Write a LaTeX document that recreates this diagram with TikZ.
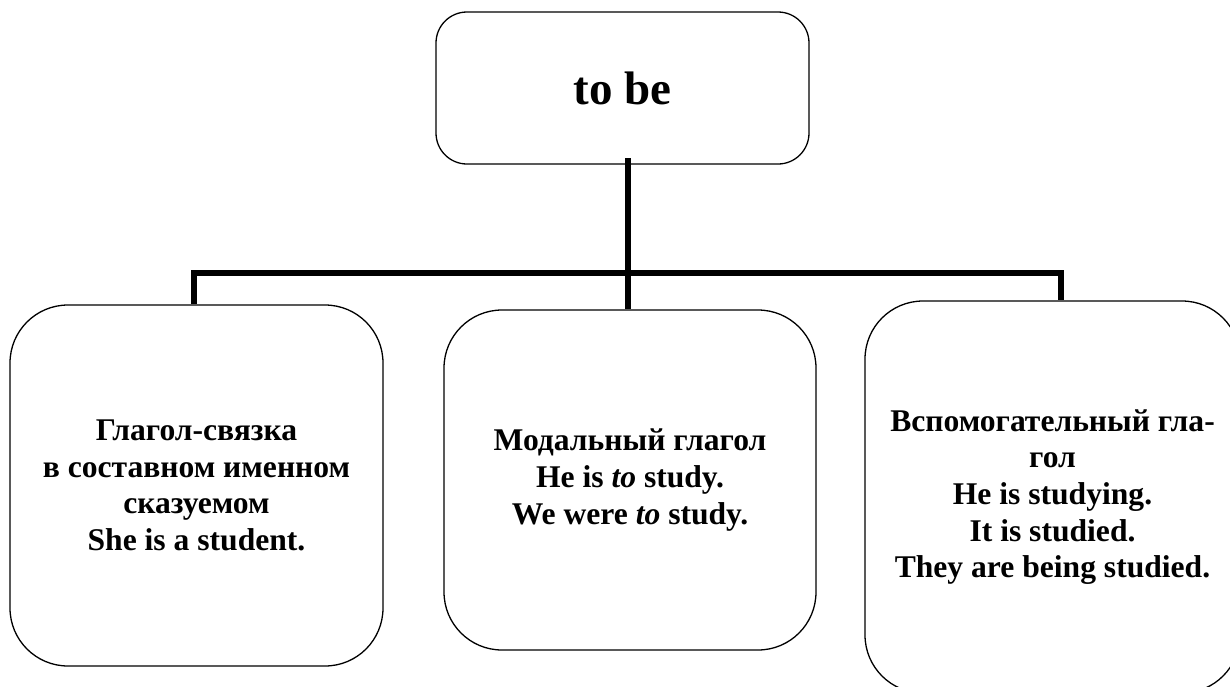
\documentclass[tikz,border=0pt]{standalone}
\usepackage{fontspec}
\setmainfont{Liberation Serif}
\newcommand\bodyfont{\fontsize{31.6}{36.7}\selectfont\bfseries}
\begin{document}
\begin{tikzpicture}[x=1pt,y=-1pt,
  box/.style={draw, line width=1.3pt, rounded corners=#1, inner sep=0pt, align=center, font=\bodyfont},
  box/.default=58pt,
  conn/.style={line width=6pt}]
\useasboundingbox (0,0) rectangle (1230,686);
\clip (0,0) rectangle (1230,686);
\node[box=31pt, minimum width=373pt, minimum height=152pt, font=\fontsize{47}{56}\selectfont\bfseries] (top) at (622.5,88) {to be};
\node[box, minimum width=373pt, minimum height=361pt] (left) at (196.5,485.5)
  {Глагол-связка\\в составном именном\\сказуемом\\She is a student.};
\node[box, minimum width=372pt, minimum height=340pt] (mid) at (630,480)
  {Модальный глагол\\He is \textit{to} study.\\We were \textit{to} study.};
\node[box, minimum width=375pt, minimum height=392pt] (right) at (1052.5,497)
  {Вспомогательный гла-\\гол\\He is studying.\\It is studied.\\They are being studied.};
\coordinate (tstart) at (628,158);
\coordinate (busL) at (194,273);
\coordinate (busR) at (1061,273);
\draw[conn] (tstart) -- (tstart |- mid.north);
\draw[conn] (left.north -| busL) -- (busL) -- (busR) -- (right.north -| busR);
\end{tikzpicture}
\end{document}
